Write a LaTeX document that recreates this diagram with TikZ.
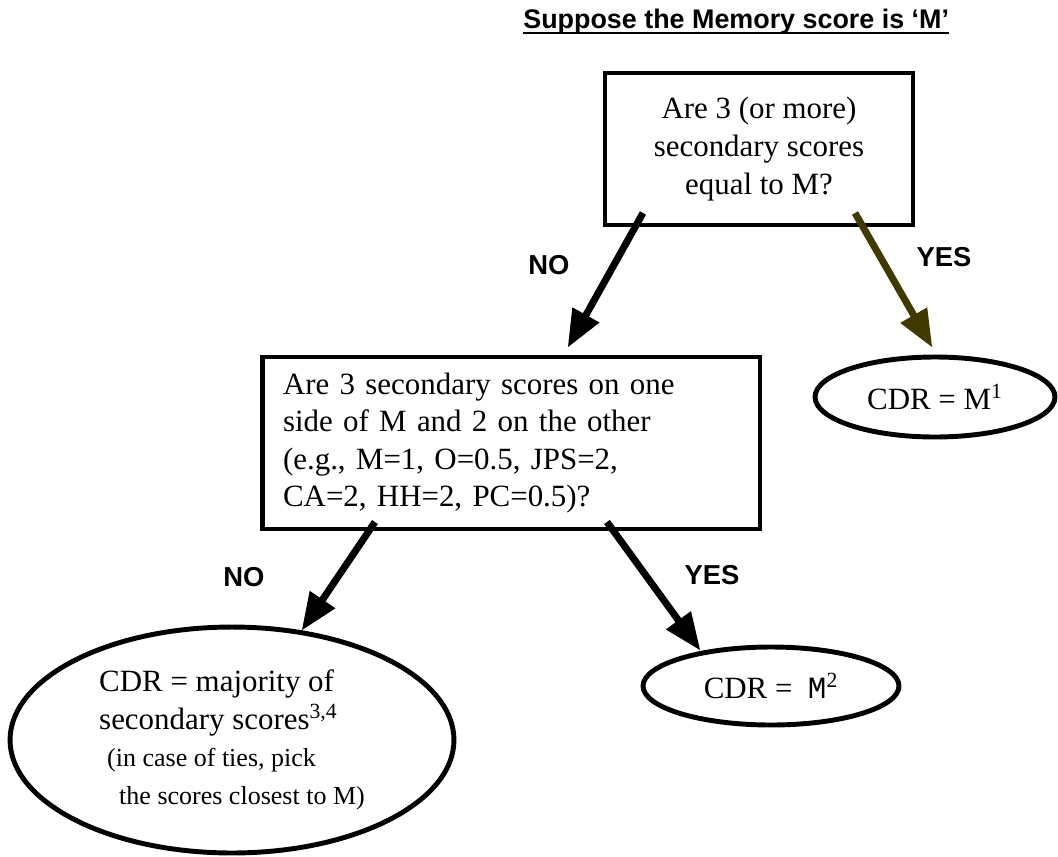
\documentclass[tikz,border=0pt]{standalone}
\usepackage{fontspec}
\setmainfont{Liberation Serif}
\setmonofont{Liberation Mono}
\newfontfamily\labelfont{Liberation Sans}
\usetikzlibrary{arrows,shapes.geometric}

\definecolor{yesolive}{RGB}{64,58,0}

\tikzset{
  question/.style={draw, rectangle, line width=2.8pt, inner sep=0pt,
    font=\fontsize{17.6}{21.4}\selectfont},
  outcome/.style={draw, ellipse, line width=2.8pt, inner sep=0pt,
    font=\fontsize{17.6}{21.4}\selectfont},
  branch/.style={line width=4pt, arrows={-triangle 45}},
  answer/.style={font=\labelfont\bfseries\fontsize{15.6}{18}\selectfont}
}

\begin{document}
\begin{tikzpicture}[x=0.02cm, y=-0.02cm]

            \useasboundingbox (0,0) rectangle (1058,856);

            \node [anchor=base west, inner sep=0pt,
              font=\labelfont\bfseries\fontsize{15.3}{18}\selectfont]
            (title) at (523,28) {Suppose the Memory score is ‘M’};
            \draw [line width=1.1pt]
            ([yshift=-2.8pt]title.base west) -- ([yshift=-2.8pt]title.base east);

            \node [question, minimum width=6.16cm, minimum height=3.04cm, align=center]
            (equal) at (759,149) {Are 3 (or more)\\secondary scores\\equal to M?};

            \node [question, text width=9.12cm, inner xsep=0.42cm, minimum height=3.44cm, align=left]
            (split) at (511,443)
            {Are 3 secondary scores on one\\side of M and 2 on the other\\(e.g., M=1, O=0.5, JPS=2,\\CA=2, HH=2, PC=0.5)?};

            \node [outcome, minimum width=4.8cm, minimum height=1.6cm]
            (cdrone) at (935,397) {CDR = M\textsuperscript{1}};

            \node [outcome, minimum width=5.12cm, minimum height=1.56cm]
            (cdrtwo) at (771,686) {CDR =\ \ \texttt{M}\textsuperscript{2}};

            \node [outcome, minimum width=8.88cm, minimum height=4.52cm, align=left]
            (cdrmaj) at (232,740)
            {CDR = majority of\\
             secondary scores\textsuperscript{3,4}\\
             {\fontsize{14.8}{17}\selectfont\hspace*{0.16cm}(in case of ties, pick}\\
             {\fontsize{14.8}{17}\selectfont\hspace*{0.4cm}the scores closest to M)}};

            \coordinate (noonestart) at (643,213);
            \coordinate (nooneend) at (568,347);
            \coordinate (yesonestart) at (855,213);
            \coordinate (yesoneend) at (932,347);
            \coordinate (notwostart) at (375,522);
            \coordinate (notwoend) at (302,630);
            \coordinate (yestwostart) at (607,522);
            \coordinate (yestwoend) at (700,650);

            \draw [branch] (noonestart) -- (nooneend);
            \draw [branch, yesolive] (yesonestart) -- (yesoneend);
            \draw [branch] (notwostart) -- (notwoend);
            \draw [branch] (yestwostart) -- (yestwoend);

            \node [answer] (noone) at (549,265) {NO};
            \node [answer] (yesone) at (944,257) {YES};
            \node [answer] (notwo) at (244,577) {NO};
            \node [answer] (yestwo) at (712,575) {YES};

\end{tikzpicture}
\end{document}
